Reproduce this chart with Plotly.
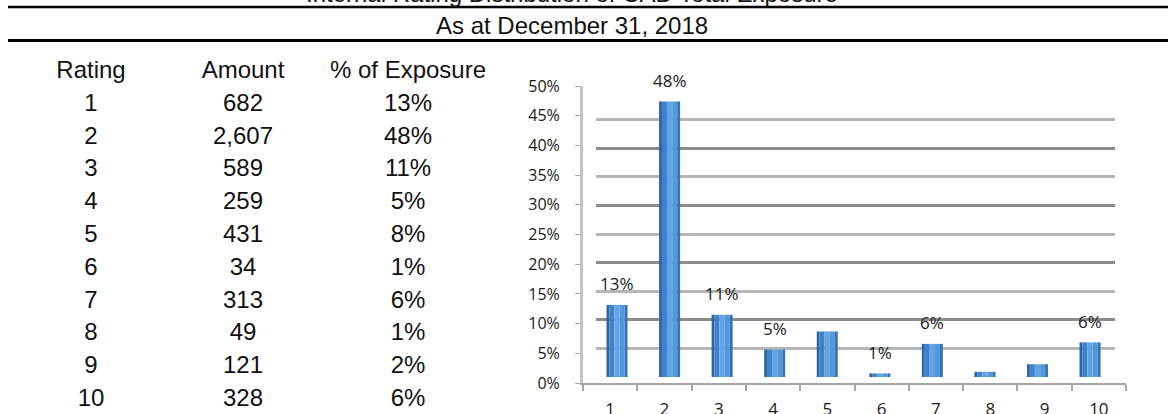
import plotly.graph_objects as go

# Internal rating distribution, amounts by rating grade
ratings = [1, 2, 3, 4, 5, 6, 7, 8, 9, 10]
amounts = [682, 2607, 589, 259, 431, 34, 313, 49, 121, 328]
labelled_ratings = [1, 2, 3, 4, 6, 7, 10]
table_headers = ["Rating", "Amount", "% of Exposure"]
title_text = "Internal Rating Distribution of CAD Total Exposure"
subtitle_text = "As at December 31, 2018"

total = sum(amounts)
shares = [a / total for a in amounts]
share_text = [f"{s:.0%}" for s in shares]
amount_text = [f"{a:,}" for a in amounts]
rating_text = [str(r) for r in ratings]

W, H = 1168, 414


def px_x(v):
    return v / W


def px_y(v):
    return 1 - v / H


fig = go.Figure()

# Summary table on the left
fig.add_trace(go.Table(
    domain=dict(x=[0, px_x(512)], y=[0, px_y(52)]),
    columnwidth=[182, 122, 208],
    header=dict(values=table_headers, height=32.8, align="center",
                fill_color="white", line_color="white", line_width=0,
                font=dict(family="Liberation Sans, Arial", size=24, color="#111")),
    cells=dict(values=[rating_text, amount_text, share_text], height=32.8,
               align="center", fill_color="white", line_color="white", line_width=0,
               font=dict(family="Liberation Sans, Arial", size=24, color="#111")),
))

# Cylinder-like columns built from vertical shading strips
strips = [
    (-0.200, 0.055, "#2c65a5"),
    (-0.145, 0.095, "#3f82c9"),
    (-0.050, 0.100, "#62a5e6"),
    (0.050, 0.095, "#5497db"),
    (0.145, 0.055, "#3473b7"),
]
for off, wd, col in strips:
    fig.add_trace(go.Bar(
        x=ratings, y=shares, offset=off, width=wd,
        marker=dict(color=col, line=dict(width=0)),
        xaxis="x", yaxis="y", hoverinfo="skip", showlegend=False,
    ))

# Front axes carrying the tick labels
fig.add_trace(go.Scatter(
    x=rating_text, y=shares, mode="markers", marker=dict(opacity=0),
    xaxis="x2", yaxis="y2", hoverinfo="skip", showlegend=False,
))

# Value labels above selected columns
for r, s, t in zip(ratings, shares, share_text):
    if r in labelled_ratings:
        fig.add_annotation(x=r, y=s, xref="x", yref="y", text=t, showarrow=False,
                           yshift=21, font=dict(family="Open Sans", size=17, color="#1a1a1a"))

# Titles
fig.add_annotation(x=px_x(572), y=px_y(-6), xref="paper", yref="paper", text=title_text,
                   showarrow=False, yanchor="middle",
                   font=dict(family="Liberation Sans, Arial", size=24, color="#111"))
fig.add_annotation(x=px_x(572), y=px_y(25), xref="paper", yref="paper", text=subtitle_text,
                   showarrow=False, yanchor="middle",
                   font=dict(family="Liberation Sans, Arial", size=24, color="#111"))

# Header rules
for yy, lw in [(7, 2.5), (40.5, 3)]:
    fig.add_shape(type="line", xref="paper", yref="paper", x0=px_x(8), x1=1,
                  y0=px_y(yy), y1=px_y(yy), line=dict(color="#000", width=lw))

grid_dark = "#8c8c8c"
grid_light = "#b6b6b6"

fig.update_layout(
    width=W, height=H,
    margin=dict(l=0, r=0, t=0, b=0, autoexpand=False),
    paper_bgcolor="white", plot_bgcolor="rgba(0,0,0,0)",
    barmode="overlay", showlegend=False,
    xaxis=dict(domain=[px_x(596), px_x(1115)], range=[0.6, 10.475], visible=False,
               fixedrange=True, automargin=False),
    yaxis=dict(domain=[px_y(377), px_y(91)], range=[0, 0.5], anchor="x",
               tickvals=[0, 0.1, 0.2, 0.3, 0.4, 0.5], showticklabels=False,
               showgrid=True, gridcolor=grid_dark, gridwidth=3, zeroline=False,
               minor=dict(dtick=0.05, showgrid=True, gridcolor=grid_light, gridwidth=3),
               fixedrange=True, automargin=False),
    xaxis2=dict(domain=[px_x(583), px_x(1126)], type="category", range=[-0.5, 9.5],
                anchor="y2", showline=True, linecolor="#a6a6a6", linewidth=2,
                ticks="outside", ticklen=6, tickcolor="#a6a6a6", tickwidth=2,
                tickson="boundaries", showgrid=False,
                tickfont=dict(family="Open Sans", size=17, color="#1a1a1a"),
                ticklabelstandoff=10, fixedrange=True, automargin=False),
    yaxis2=dict(domain=[px_y(383), px_y(86)], range=[0, 0.5], anchor="x2",
                dtick=0.05, tickformat=".0%", showline=True, linecolor="#c4c4c4",
                linewidth=3, ticks="outside", ticklen=5, tickcolor="#a6a6a6",
                showgrid=False, zeroline=False,
                tickfont=dict(family="Open Sans", size=16, color="#1a1a1a"),
                ticklabelstandoff=12, fixedrange=True, automargin=False),
)

fig.write_html("out.html")
